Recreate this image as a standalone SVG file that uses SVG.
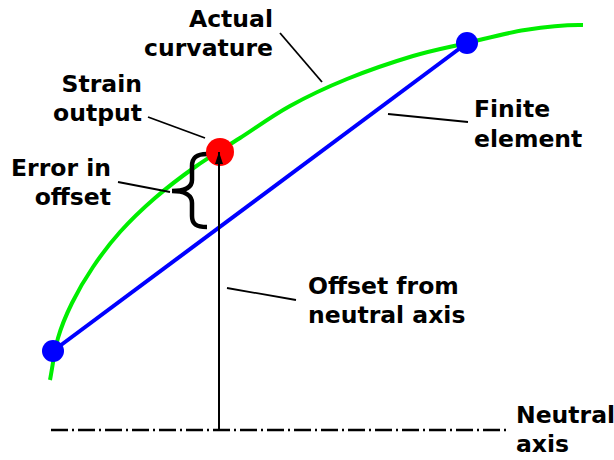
<svg xmlns="http://www.w3.org/2000/svg" width="614" height="460" viewBox="0 0 614 460">
  <defs>
    <style>
      .lbl { font-family: "DejaVu Sans", Verdana, sans-serif; font-weight: bold; font-size: 23.5px; fill: #000; }
      .r { text-anchor: end; }
      .leader { stroke: #000; stroke-width: 1.8; fill: none; }
    </style>
    <marker id="arrow" viewBox="0 0 12 8" refX="12" refY="4" markerWidth="12" markerHeight="8" markerUnits="userSpaceOnUse" orient="auto">
      <path d="M0,0 L12,4 L0,8 Z" fill="#000"/>
    </marker>
  </defs>
  <rect width="614" height="460" fill="#fff"/>

  <g id="neutral-axis-line">
    <line x1="51" y1="430" x2="510" y2="430" stroke="#000" stroke-width="2.6" stroke-dasharray="17 4 2 4"/>
  </g>

  <g id="actual-curvature">
    <path d="M50,380 C52.7,366 54.3,350.8 58,338 C61.67,325.17 66.17,314.83 72,303 C77.83,291.17 85,278.83 93,267 C101,255.17 109.67,243.5 120,232 C130.33,220.5 142.5,208.83 155,198 C167.5,187.17 180.83,177 195,167 C209.17,157 224.17,148.17 240,138 C255.83,127.83 272.17,115.83 290,106 C307.83,96.17 326.5,87.33 347,79 C367.5,70.67 393,62 413,56 C433,50 448.33,47.33 467,43 C485.67,38.67 505.67,33 525,30 C544.33,27 564,24.5 583,25" fill="none" stroke="#00ee00" stroke-width="4"/>
  </g>

  <g id="finite-element">
    <line x1="53" y1="351" x2="467" y2="43" stroke="#0000ff" stroke-width="4"/>
    <circle cx="53" cy="351" r="11" fill="#0000ff"/>
    <circle cx="467" cy="43" r="11" fill="#0000ff"/>
  </g>

  <g id="error-brace">
    <path d="M207,154 C196,154 192,158 192,166 L192,180 C192,187 186,191 172,191 C186,191 192,196 192,203 L192,216 C192,224 196,227 207,227" fill="none" stroke="#000" stroke-width="4.5"/>
  </g>

  <g id="strain-output-point">
    <circle cx="220" cy="152" r="14" fill="#ff0000"/>
  </g>

  <g id="offset-arrow">
    <line x1="219" y1="430" x2="219" y2="152" stroke="#000" stroke-width="2" marker-end="url(#arrow)"/>
  </g>

  <g id="connectors">
    <line class="leader" x1="280" y1="33" x2="322" y2="82"/>
    <line class="leader" x1="148" y1="117" x2="205" y2="138"/>
    <line class="leader" x1="118" y1="182" x2="170" y2="192"/>
    <line class="leader" x1="388" y1="114" x2="468" y2="122"/>
    <line class="leader" x1="227" y1="288" x2="296" y2="300"/>
  </g>

  <g id="label-actual-curvature">
    <text class="lbl r" x="273" y="27">Actual</text>
    <text class="lbl r" x="273" y="56">curvature</text>
  </g>
  <g id="label-strain-output">
    <text class="lbl r" x="142" y="92">Strain</text>
    <text class="lbl r" x="142" y="121">output</text>
  </g>
  <g id="label-error-in-offset">
    <text class="lbl r" x="111" y="176">Error in</text>
    <text class="lbl r" x="111" y="205">offset</text>
  </g>
  <g id="label-finite-element">
    <text class="lbl" x="474" y="117">Finite</text>
    <text class="lbl" x="474" y="147">element</text>
  </g>
  <g id="label-offset">
    <text class="lbl" x="308" y="294">Offset from</text>
    <text class="lbl" x="308" y="323">neutral axis</text>
  </g>
  <g id="label-neutral-axis">
    <text class="lbl" x="516" y="423">Neutral</text>
    <text class="lbl" x="516" y="452">axis</text>
  </g>
</svg>
